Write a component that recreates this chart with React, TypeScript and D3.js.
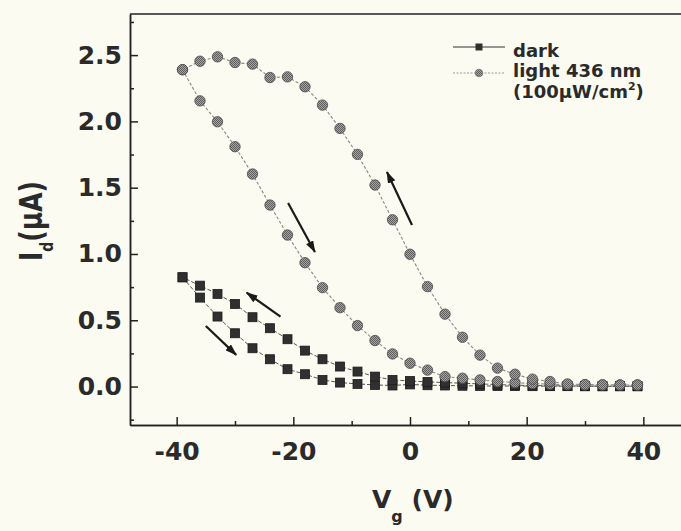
import React, { useEffect, useRef } from "react";
import * as d3 from "d3";

// gate voltage sweep points (V)
const vg = [-39, -36, -33, -30, -27, -24, -21, -18, -15, -12, -9, -6, -3, 0, 3, 6, 9, 12, 15, 18, 21, 24, 27, 30, 33, 36, 39];

// dark: forward sweep (-39 -> 39) and return sweep (39 -> -39), listed by vg
const darkForward = [0.824, 0.671, 0.528, 0.402, 0.289, 0.206, 0.131, 0.093, 0.05, 0.03, 0.02, 0.012, 0.008, 0.016, 0.01, 0.008, 0.006, 0.005, 0.004, 0.004, 0.003, 0.003, 0.003, 0.002, 0.002, 0.002, 0.002];
const darkReturn = [0.824, 0.761, 0.699, 0.623, 0.523, 0.44, 0.357, 0.271, 0.206, 0.151, 0.113, 0.075, 0.05, 0.042, 0.035, 0.03, 0.025, 0.02, 0.015, 0.01, 0.008, 0.006, 0.005, 0.004, 0.003, 0.003, 0.003];

// light 436 nm
const lightForward = [2.39, 2.155, 1.997, 1.809, 1.603, 1.369, 1.143, 0.934, 0.746, 0.595, 0.46, 0.347, 0.246, 0.176, 0.124, 0.075, 0.063, 0.05, 0.038, 0.03, 0.022, 0.018, 0.014, 0.012, 0.012, 0.012, 0.012];
const lightReturn = [2.39, 2.454, 2.487, 2.444, 2.432, 2.331, 2.336, 2.261, 2.123, 1.947, 1.751, 1.52, 1.258, 0.998, 0.754, 0.546, 0.372, 0.237, 0.139, 0.093, 0.056, 0.038, 0.02, 0.015, 0.013, 0.012, 0.012];

const xTicks = [-40, -20, 0, 20, 40];
const xMinorTicks = [-30, -10, 10, 30];
const yTicks = [0, 0.5, 1.0, 1.5, 2.0, 2.5];
const yMinorTicks = [-0.25, 0.25, 0.75, 1.25, 1.75, 2.25, 2.75];

// sweep direction arrows, [vgStart, idStart, vgEnd, idEnd]
const arrows = [
  [0.34, 1.219, -3.95, 1.618],
  [-20.9, 1.384, -16.3, 1.015],
  [-22.2, 0.527, -28.0, 0.708],
  [-35.0, 0.457, -29.8, 0.239],
];

const FONT = "'DejaVu Sans', sans-serif";
const INK = "#2a2a2a";

export default function App() {
  const svgRef = useRef<SVGSVGElement>(null);

  useEffect(() => {
    const width = 681;
    const height = 531;
    const left = 130;
    const right = 690;
    const top = 14;
    const bottom = 425;

    const svg = d3.select(svgRef.current);
    svg.selectAll("*").remove();
    svg.attr("width", width).attr("height", height).attr("viewBox", [0, 0, width, height]);

    const x = d3.scaleLinear().domain([-48, 48]).range([left, right]);
    const y = d3.scaleLinear().domain([-0.29, 2.81]).range([bottom, top]);

    svg.append("rect").attr("width", width).attr("height", height).attr("fill", "#fbfbf1");

    const defs = svg.append("defs");
    const pat = defs
      .append("pattern")
      .attr("id", "stipple")
      .attr("patternUnits", "userSpaceOnUse")
      .attr("width", 2)
      .attr("height", 2);
    pat.append("rect").attr("width", 2).attr("height", 2).attr("fill", "#a4a4a4");
    pat.append("rect").attr("width", 1).attr("height", 1).attr("fill", "#5e5e5e");
    pat.append("rect").attr("x", 1).attr("y", 1).attr("width", 1).attr("height", 1).attr("fill", "#5e5e5e");

    defs
      .append("marker")
      .attr("id", "head")
      .attr("markerUnits", "userSpaceOnUse")
      .attr("viewBox", "0 0 12 8")
      .attr("markerWidth", 12)
      .attr("markerHeight", 8)
      .attr("refX", 11)
      .attr("refY", 4)
      .attr("orient", "auto")
      .append("path")
      .attr("d", "M0,0 L12,4 L0,8 Z")
      .attr("fill", "#1a1a1a");

    // top frame line (right side falls outside the picture)
    svg
      .append("line")
      .attr("x1", left)
      .attr("x2", right)
      .attr("y1", top)
      .attr("y2", top)
      .attr("stroke", "#222")
      .attr("stroke-width", 1.5);

    // axes (ticks point inward)
    svg
      .append("g")
      .attr("transform", `translate(0,${bottom})`)
      .call(d3.axisBottom(x).tickValues(xTicks).tickSizeInner(-8).tickSizeOuter(0).tickPadding(17).tickFormat((d) => String(d)));
    svg
      .append("g")
      .attr("transform", `translate(0,${bottom})`)
      .call(d3.axisBottom(x).tickValues(xMinorTicks).tickSizeInner(-4).tickSizeOuter(0).tickFormat(() => ""));

    svg
      .append("g")
      .attr("transform", `translate(${left},0)`)
      .call(d3.axisLeft(y).tickValues(yTicks).tickSizeInner(-8).tickSizeOuter(0).tickPadding(8).tickFormat(d3.format(".1f")));
    svg
      .append("g")
      .attr("transform", `translate(${left},0)`)
      .call(d3.axisLeft(y).tickValues(yMinorTicks).tickSizeInner(-4).tickSizeOuter(0).tickFormat(() => ""));

    svg.selectAll(".domain").attr("stroke", "#222").attr("stroke-width", 1.5);
    svg.selectAll(".tick line").attr("stroke", "#222").attr("stroke-width", 1.5);
    svg
      .selectAll(".tick text")
      .attr("font-family", FONT)
      .attr("font-weight", "bold")
      .attr("font-size", 25)
      .attr("fill", INK);

    // axis titles
    const xt = svg
      .append("text")
      .attr("x", 372)
      .attr("y", 508)
      .attr("font-family", FONT)
      .attr("font-weight", "bold")
      .attr("font-size", 25)
      .attr("fill", INK);
    xt.append("tspan").text("V");
    xt.append("tspan").attr("font-size", 16).attr("dy", 14).text("g");
    xt.append("tspan").attr("dy", -14).text(" (V)");

    const yt = svg
      .append("text")
      .attr("transform", "translate(42,261) rotate(-90) scale(1,1.3)")
      .attr("font-family", FONT)
      .attr("font-weight", "bold")
      .attr("font-size", 25)
      .attr("fill", INK);
    yt.append("tspan").text("I");
    yt.append("tspan").attr("font-size", 14).attr("dy", 8.5).text("d");
    yt.append("tspan").attr("dy", -8.5).text("(\u03BCA)");

    const line = d3
      .line<[number, number]>()
      .x((d) => x(d[0]))
      .y((d) => y(d[1]));

    const pairs = (vals: number[]) => vg.map((v, i) => [v, vals[i]] as [number, number]);
    const darkLoop = pairs(darkForward).concat(pairs(darkReturn).reverse());
    const lightLoop = pairs(lightForward).concat(pairs(lightReturn).reverse());

    // dark
    svg
      .append("path")
      .attr("d", line(darkLoop))
      .attr("fill", "none")
      .attr("stroke", "#555")
      .attr("stroke-width", 1)
      .attr("stroke-dasharray", "4,2");
    const sq = 9;
    svg
      .append("g")
      .selectAll("rect")
      .data(pairs(darkForward).concat(pairs(darkReturn)))
      .join("rect")
      .attr("x", (d) => x(d[0]) - sq / 2)
      .attr("y", (d) => y(d[1]) - sq / 2)
      .attr("width", sq)
      .attr("height", sq)
      .attr("fill", "#303030")
      .attr("stroke", "#1c1c1c")
      .attr("stroke-width", 0.8);

    // light
    svg
      .append("path")
      .attr("d", line(lightLoop))
      .attr("fill", "none")
      .attr("stroke", "#888")
      .attr("stroke-width", 1.1)
      .attr("stroke-dasharray", "3,2");
    svg
      .append("g")
      .selectAll("circle")
      .data(pairs(lightForward).concat(pairs(lightReturn)))
      .join("circle")
      .attr("cx", (d) => x(d[0]))
      .attr("cy", (d) => y(d[1]))
      .attr("r", 5.2)
      .attr("fill", "url(#stipple)")
      .attr("stroke", "#4a4a4a")
      .attr("stroke-width", 0.8);

    // arrows
    svg
      .append("g")
      .selectAll("line")
      .data(arrows)
      .join("line")
      .attr("x1", (d) => x(d[0]))
      .attr("y1", (d) => y(d[1]))
      .attr("x2", (d) => x(d[2]))
      .attr("y2", (d) => y(d[3]))
      .attr("stroke", "#1a1a1a")
      .attr("stroke-width", 2.2)
      .attr("marker-end", "url(#head)");

    // legend
    const lg = svg.append("g");
    lg.append("line").attr("x1", 453).attr("x2", 505).attr("y1", 47).attr("y2", 47).attr("stroke", "#333").attr("stroke-width", 1);
    lg.append("rect").attr("x", 475.5).attr("y", 43.5).attr("width", 7).attr("height", 7).attr("fill", "#303030");
    lg.append("line")
      .attr("x1", 453)
      .attr("x2", 505)
      .attr("y1", 73)
      .attr("y2", 73)
      .attr("stroke", "#999")
      .attr("stroke-width", 1)
      .attr("stroke-dasharray", "2,1.5");
    lg.append("circle").attr("cx", 479).attr("cy", 73).attr("r", 3.8).attr("fill", "url(#stipple)").attr("stroke", "#666").attr("stroke-width", 0.6);

    const lt = lg
      .append("g")
      .attr("font-family", FONT)
      .attr("font-weight", "bold")
      .attr("font-size", 18)
      .attr("fill", INK);
    lt.append("text").attr("x", 513).attr("y", 56.5).text("dark");
    lt.append("text").attr("x", 513).attr("y", 76.5).text("light 436 nm");
    const unit = lt.append("text").attr("x", 513).attr("y", 97.5);
    unit.append("tspan").text("(100\u03BCW/cm");
    unit.append("tspan").attr("font-size", 11).attr("dy", -8).text("2");
    unit.append("tspan").attr("dy", 8).text(")");
  }, []);

  return <svg ref={svgRef} style={{ position: "absolute", left: 0, top: 0, display: "block" }} />;
}
